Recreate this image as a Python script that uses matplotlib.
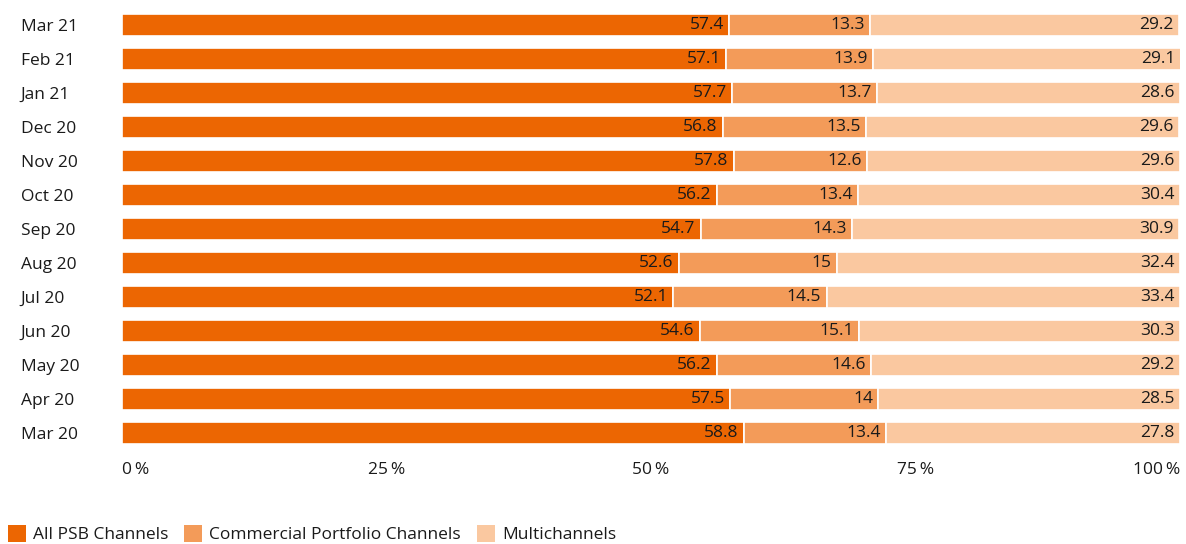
import numpy as np
import matplotlib.pyplot as plt
from matplotlib.patches import Patch

plt.rcParams['font.family'] = ['Open Sans', 'DejaVu Sans']

# 月別シェア（下から上へ）
months = ['Mar 20', 'Apr 20', 'May 20', 'Jun 20', 'Jul 20', 'Aug 20', 'Sep 20',
          'Oct 20', 'Nov 20', 'Dec 20', 'Jan 21', 'Feb 21', 'Mar 21']
psb = [58.8, 57.5, 56.2, 54.6, 52.1, 52.6, 54.7, 56.2, 57.8, 56.8, 57.7, 57.1, 57.4]
commercial = [13.4, 14, 14.6, 15.1, 14.5, 15, 14.3, 13.4, 12.6, 13.5, 13.7, 13.9, 13.3]
multi = [27.8, 28.5, 29.2, 30.3, 33.4, 32.4, 30.9, 30.4, 29.6, 29.6, 28.6, 29.1, 29.2]

series_names = ['All PSB Channels', 'Commercial Portfolio Channels', 'Multichannels']
colors = ['#EC6602', '#F39B59', '#FAC8A0']

FS = 12.5
W, H = 1186, 544
fig = plt.figure(figsize=(W / 100, H / 100), dpi=100)
ax = fig.add_axes([122 / W, 1 - 450 / H, (1180 - 122) / W, (450 - 8) / H])

y = np.arange(len(months))
left = np.zeros(len(months))
for vals, c in zip([psb, commercial, multi], colors):
    vals = np.array(vals, dtype=float)
    ax.barh(y, vals, left=left, height=0.65, color=c, edgecolor='white', linewidth=1.2)
    for yi, l, v in zip(y, left, vals):
        ax.text(l + v - 0.5, yi, f'{v:g}', ha='right', va='center',
                fontsize=FS, color='#1a1a1a')
    left += vals

ax.set_xlim(0, 100)
ax.set_ylim(-0.5, len(months) - 0.5)
for s in ax.spines.values():
    s.set_visible(False)

ax.set_yticks(y)
ax.set_yticklabels(months, fontsize=FS, color='#1a1a1a', ha='left')
ax.tick_params(axis='y', length=0, pad=73)

ax.set_xticks([0, 25, 50, 75, 100])
ax.set_xticklabels(['0\u2009%', '25\u2009%', '50\u2009%', '75\u2009%', '100\u2009%'],
                   fontsize=FS, color='#1a1a1a')
ax.tick_params(axis='x', length=0, pad=9)
xl = ax.get_xticklabels()
xl[0].set_ha('left')
xl[-1].set_ha('right')

handles = [Patch(facecolor=c, edgecolor='none') for c in colors]
fig.legend(handles, series_names, loc='lower left', bbox_to_anchor=(-0.002, -0.018),
           ncol=3, frameon=False, fontsize=FS, handlelength=1.05, handleheight=1.05,
           handletextpad=0.4, columnspacing=0.9, borderaxespad=0.2,
           labelcolor='#1a1a1a')

fig.savefig('out.png', dpi=100)
